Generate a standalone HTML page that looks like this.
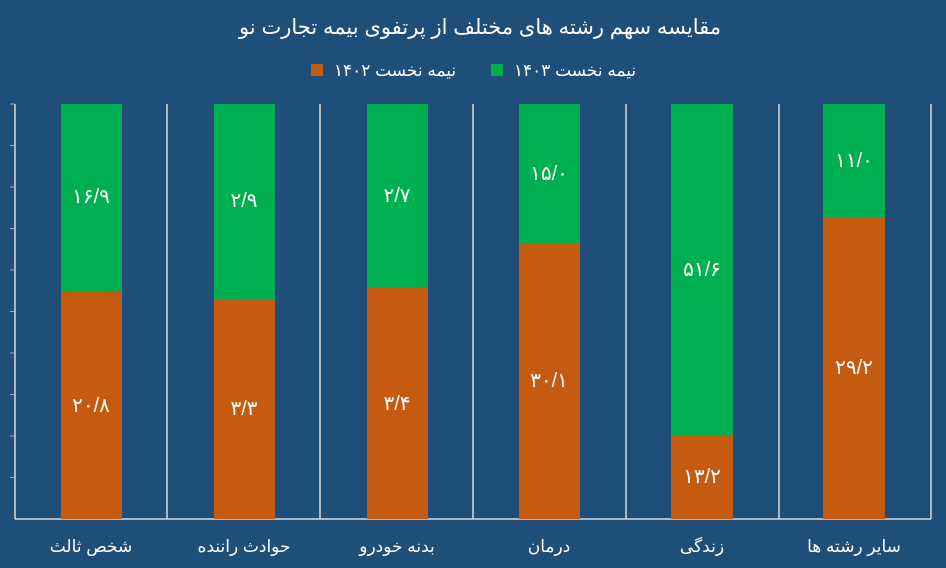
<!DOCTYPE html>
<html><head><meta charset="utf-8"><style>
body{margin:0;background:#1f4e79;}
svg{display:block}
text{font-family:"Liberation Sans","DejaVu Sans",sans-serif;fill:#fff}
</style></head><body>
<svg width="946" height="568" viewBox="0 0 946 568">
<rect width="946" height="568" fill="#1f4e79"/>
<text x="480" y="34" font-size="21" text-anchor="middle">مقایسه سهم رشته های مختلف از پرتفوی بیمه تجارت نو</text>
<rect x="491" y="64" width="12" height="12" fill="#00b050"/>
<text x="575" y="76" font-size="17" text-anchor="middle">نیمه نخست ۱۴۰۳</text>
<rect x="311" y="64" width="12" height="12" fill="#c55a11"/>
<text x="395" y="76" font-size="17" text-anchor="middle">نیمه نخست ۱۴۰۲</text>
<g stroke="#8ea9c8" stroke-width="1">
<line x1="10" y1="104" x2="15" y2="104"/><line x1="10" y1="145.5" x2="15" y2="145.5"/><line x1="10" y1="187" x2="15" y2="187"/><line x1="10" y1="228.5" x2="15" y2="228.5"/><line x1="10" y1="270" x2="15" y2="270"/><line x1="10" y1="311.5" x2="15" y2="311.5"/><line x1="10" y1="353" x2="15" y2="353"/><line x1="10" y1="394.5" x2="15" y2="394.5"/><line x1="10" y1="436" x2="15" y2="436"/><line x1="10" y1="477.5" x2="15" y2="477.5"/>
</g>
<g stroke="#d9d9d9" stroke-width="1.5">
<line x1="15" y1="104" x2="15" y2="519"/><line x1="167" y1="104" x2="167" y2="519"/><line x1="320" y1="104" x2="320" y2="519"/><line x1="473" y1="104" x2="473" y2="519"/><line x1="626" y1="104" x2="626" y2="519"/><line x1="779" y1="104" x2="779" y2="519"/><line x1="931" y1="104" x2="931" y2="519"/>
<line x1="15" y1="519" x2="931" y2="519"/>
</g>
<g>
<rect x="61" y="104" width="61" height="188" fill="#00b050"/><rect x="61" y="292" width="61" height="227" fill="#c55a11"/>
<rect x="214" y="104" width="61" height="195" fill="#00b050"/><rect x="214" y="299" width="61" height="220" fill="#c55a11"/>
<rect x="367" y="104" width="61" height="184" fill="#00b050"/><rect x="367" y="288" width="61" height="231" fill="#c55a11"/>
<rect x="519" y="104" width="61" height="139" fill="#00b050"/><rect x="519" y="243" width="61" height="276" fill="#c55a11"/>
<rect x="671" y="104" width="62" height="331" fill="#00b050"/><rect x="671" y="435" width="62" height="84" fill="#c55a11"/>
<rect x="823" y="104" width="62" height="113" fill="#00b050"/><rect x="823" y="217" width="62" height="302" fill="#c55a11"/>
</g>
<g font-size="20" text-anchor="middle">
<text x="91" y="203">۱۶/۹</text><text x="91" y="412">۲۰/۸</text>
<text x="244" y="207">۲/۹</text><text x="244" y="415">۳/۳</text>
<text x="397" y="202">۲/۷</text><text x="397" y="410">۳/۴</text>
<text x="549" y="180">۱۵/۰</text><text x="549" y="387">۳۰/۱</text>
<text x="702" y="276">۵۱/۶</text><text x="702" y="483">۱۳/۲</text>
<text x="854" y="167">۱۱/۰</text><text x="854" y="374">۲۹/۲</text>
</g>
<g font-size="17" text-anchor="middle">
<text x="91" y="552">شخص ثالث</text><text x="244" y="552">حوادث راننده</text><text x="397" y="552">بدنه خودرو</text>
<text x="549" y="552">درمان</text><text x="702" y="552">زندگی</text><text x="854" y="552">سایر رشته ها</text>
</g>
</svg>
</body></html>
